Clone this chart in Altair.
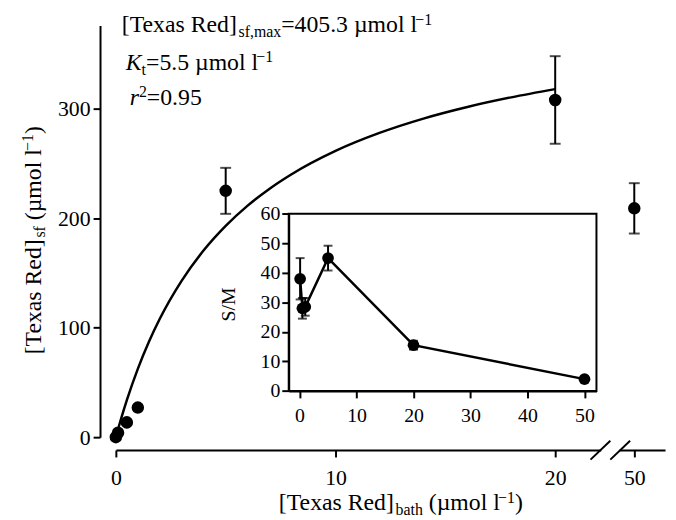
import altair as alt
import pandas as pd

# ---------------- data ----------------
conc = [0, 0.1, 0.5, 1, 5, 20, 50]
sf = [0, 4, 13.5, 27, 225, 308, 209]
sf_err = [0, 0, 0, 0, 21, 40, 23]

curve_x = [0, 0.25, 0.5, 1, 1.5, 2, 3, 4, 5, 6, 7, 8, 10, 12, 14, 16, 18, 20]
curve_y = [0, 17.6, 33.8, 62.4, 86.9, 108.1, 143.0, 170.7, 193.0, 211.5, 227.0,
           240.2, 261.5, 277.9, 291.0, 301.6, 310.4, 317.9]

sm_conc = [0.1, 0.5, 1, 5, 20, 50]
sm = [38, 28, 28.5, 45, 15.5, 4]
sm_err = [7, 3.5, 3, 4.2, 1.5, 0.8]

main_ticks = [0, 10, 20, 50]
main_yticks = [0, 100, 200, 300]

# ---------------- layout constants ----------------
W, H = 555, 416
BREAK_POS = 23.6          # axis position where 50 is drawn (broken axis)
FONT = "Liberation Serif, Times New Roman, serif"
F, S = 24, 16             # main / sub-superscript font sizes


def xpos(c):
    return c if c <= 20 else BREAK_POS


main_df = pd.DataFrame({
    "xp": [xpos(c) for c in conc],
    "sf": sf,
    "lo": [a - b for a, b in zip(sf, sf_err)],
    "hi": [a + b for a, b in zip(sf, sf_err)],
    "err": sf_err,
})
err_df = main_df[main_df["err"] > 0]
curve_df = pd.DataFrame({"xp": curve_x, "sf": curve_y})

in_df = pd.DataFrame({
    "c": sm_conc, "v": sm,
    "lo": [a - b for a, b in zip(sm, sm_err)],
    "hi": [a + b for a, b in zip(sm, sm_err)],
})
frame_df = pd.DataFrame({"c": [-1.9], "c2": [52.1], "v": [0], "v2": [60]})
one = pd.DataFrame({"a": [0]})

# ---------------- main scales / axes ----------------
tick_pos = [xpos(t) for t in main_ticks]
ax_x = alt.Axis(values=tick_pos, offset=13, orient="bottom", title=None,
                labelExpr="datum.value > 21 ? '50' : format(datum.value, 'd')",
                labelPadding=11)
ax_y = alt.Axis(values=main_yticks, offset=16, orient="left", title=None,
                labelPadding=3)
sx = alt.Scale(domain=[0, 25], nice=False, zero=False)
sy = alt.Scale(domain=[0, 376], nice=False, zero=False)


def MX(f):
    return alt.X(f, type="quantitative", scale=sx, axis=ax_x)


def MY(f):
    return alt.Y(f, type="quantitative", scale=sy, axis=ax_y)


curve = alt.Chart(curve_df).mark_line(color="black", strokeWidth=2.5, interpolate="monotone").encode(
    x=MX("xp"), y=MY("sf"))
rules = alt.Chart(err_df).mark_rule(color="black", strokeWidth=2).encode(
    x=MX("xp"), y=MY("lo"), y2="hi")
cap_lo = alt.Chart(err_df).mark_tick(color="black", orient="horizontal", size=11, thickness=2).encode(
    x=MX("xp"), y=MY("lo"))
cap_hi = alt.Chart(err_df).mark_tick(color="black", orient="horizontal", size=11, thickness=2).encode(
    x=MX("xp"), y=MY("hi"))
pts = alt.Chart(main_df).mark_circle(color="black", size=160, opacity=1).encode(
    x=MX("xp"), y=MY("sf"))
main = alt.layer(curve, rules, cap_lo, cap_hi, pts)

# ---------------- inset scales / axes ----------------
ix = alt.Scale(domain=[-1.9, 52.1], range=[174.7, 485.7], nice=False, zero=False)
iy = alt.Scale(domain=[0, 60], range=[369.3, 190.3], nice=False, zero=False)
iax_x = alt.Axis(values=[0, 10, 20, 30, 40, 50], orient="bottom", offset=369.3 - H,
                 title=None, labelFontSize=20, labelPadding=8)
iax_y = alt.Axis(values=[0, 10, 20, 30, 40, 50, 60], orient="left", offset=-174.7,
                 title=None, labelFontSize=20, labelPadding=2)


def IX(f):
    return alt.X(f, type="quantitative", scale=ix, axis=iax_x)


def IY(f):
    return alt.Y(f, type="quantitative", scale=iy, axis=iax_y)


frame = alt.Chart(frame_df).mark_rect(fillOpacity=0, stroke="black", strokeWidth=2).encode(
    x=IX("c"), x2="c2", y=IY("v"), y2="v2")
irules = alt.Chart(in_df).mark_rule(color="black", strokeWidth=2).encode(
    x=IX("c"), y=IY("lo"), y2="hi")
icap_lo = alt.Chart(in_df).mark_tick(color="black", orient="horizontal", size=9, thickness=2).encode(
    x=IX("c"), y=IY("lo"))
icap_hi = alt.Chart(in_df).mark_tick(color="black", orient="horizontal", size=9, thickness=2).encode(
    x=IX("c"), y=IY("hi"))
iline = alt.Chart(in_df).mark_line(color="black", strokeWidth=2.5).encode(
    x=IX("c"), y=IY("v"))
ipts = alt.Chart(in_df).mark_circle(color="black", size=140, opacity=1).encode(
    x=IX("c"), y=IY("v"))
inset = alt.layer(frame, irules, icap_lo, icap_hi, iline, ipts)

# ---------------- axis break decoration ----------------
gap = alt.Chart(one).mark_rule(color="white", strokeWidth=6).encode(
    x=alt.value(490.5), x2=alt.value(509), y=alt.value(429), y2=alt.value(429))
slash1 = alt.Chart(one).mark_rule(color="black", strokeWidth=2).encode(
    x=alt.value(479.7), x2=alt.value(499.7), y=alt.value(438.7), y2=alt.value(419.7))
slash2 = alt.Chart(one).mark_rule(color="black", strokeWidth=2).encode(
    x=alt.value(499.7), x2=alt.value(519.7), y=alt.value(438.7), y2=alt.value(419.7))

# ---------------- rich text (sub/superscripts) ----------------
WID = {' ': .25, '[': .333, ']': .333, '(': .333, ')': .333, 'T': .611, 'e': .444,
       'x': .5, 'a': .444, 's': .389, 'R': .667, 'd': .5, 'f': .333, ',': .25,
       'm': .778, '=': .564, '.': .25, 'µ': .5, 'o': .5, 'l': .278, '−': .564,
       'K': .667, 't': .278, 'r': .389, 'b': .5, 'h': .5}


def tw(t, size):
    return sum(WID.get(ch, .5) for ch in t) * size


def rich(runs, x0, y0, rotated=False, center=False):
    sizes = [F if k in ("n", "it") else S for _, k in runs]
    total = sum(tw(t, s) for (t, _), s in zip(runs, sizes))
    adv = -total / 2 if center else 0
    layers = []
    for (t, k), s in zip(runs, sizes):
        lead = len(t) - len(t.lstrip(" "))
        adv += tw(" " * lead, s)          # SVG drops leading spaces
        body = t.lstrip(" ")
        dy = {"n": 0, "it": 0, "sub": 0.2 * F, "sup": -0.33 * F}[k]
        if rotated:
            x, y, ang = x0 + dy, y0 - adv, 270
        else:
            x, y, ang = x0 + adv, y0 + dy, 0
        layers.append(alt.Chart(one).mark_text(
            text=body, font=FONT, fontSize=s, align="left", baseline="alphabetic",
            angle=ang, color="black", fontStyle="italic" if k == "it" else "normal"
        ).encode(x=alt.value(x), y=alt.value(y)))
        adv += tw(body, s)
    return layers


OX, OY = 117, 23   # page position of the plot origin
texts = []
texts += rich([("[Texas Red]", "n"), ("sf,max", "sub"), ("=405.3 µmol l", "n"), ("−1", "sup")],
              123 - OX, 30 - OY)
texts += rich([("K", "it"), ("t", "sub"), ("=5.5 µmol l", "n"), ("−1", "sup")],
              127 - OX, 68 - OY)
texts += rich([("r", "it"), ("2", "sup"), ("=0.95", "n")], 131 - OX, 103 - OY)
texts += rich([("[Texas Red]", "n"), ("bath", "sub"), (" (µmol l", "n"), ("−1", "sup"), (")", "n")],
              405 - OX, 513 - OY, center=True)
texts += rich([("[Texas Red]", "n"), ("sf", "sub"), (" (µmol l", "n"), ("−1", "sup"), (")", "n")],
              41 - OX, 240 - OY, rotated=True, center=True)
sm_title = alt.Chart(one).mark_text(text="S/M", font=FONT, fontSize=20, angle=270,
                                    align="center", baseline="middle", color="black").encode(
    x=alt.value(231.7 - OX), y=alt.value(305 - OY))

chart = alt.layer(main, inset, gap, slash1, slash2, sm_title, *texts).resolve_scale(
    x="independent", y="independent"
).properties(
    width=W, height=H,
    autosize=alt.AutoSizeParams(type="none"),
    padding={"left": 109, "top": 15, "right": 3, "bottom": 81},
    background="white",
).configure_view(stroke=None).configure_axis(
    grid=False, domainColor="black", domainWidth=2, tickColor="black", tickWidth=2,
    tickSize=7, labelFont=FONT, labelFontSize=22, labelColor="black",
    labelFlush=False, labelOverlap=False,
)

chart.save("out.html", embed_options={"renderer": "svg", "actions": False})
